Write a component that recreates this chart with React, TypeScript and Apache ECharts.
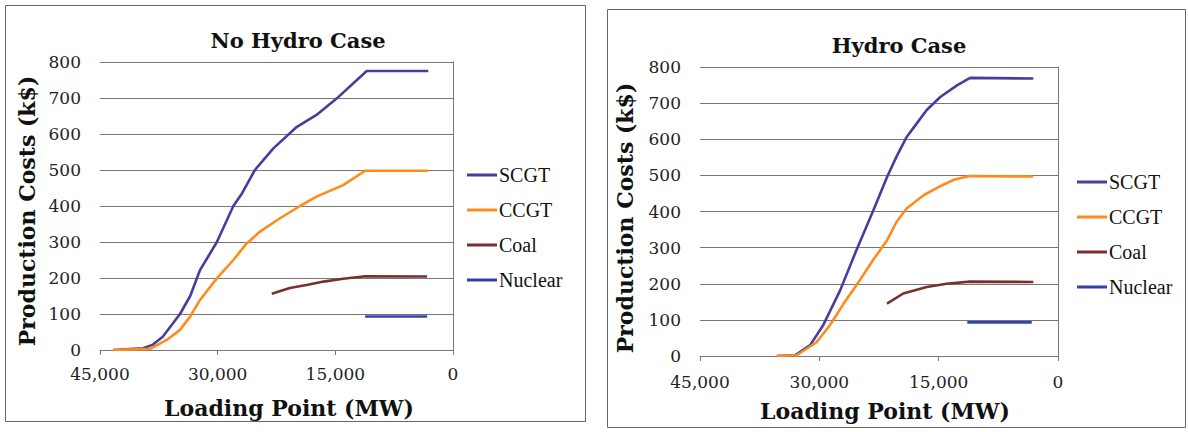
import React, { useEffect, useRef } from "react";
import * as echarts from "echarts";

// ---------- data ----------
const seriesNames = ["SCGT", "CCGT", "Coal", "Nuclear"];
const seriesColors = ["#4a3c9c", "#ff8c1a", "#7a2f2f", "#3340b0"];
const xTicks = [0, 15000, 30000, 45000];
const yTicks = [0, 100, 200, 300, 400, 500, 600, 700, 800];

// No Hydro Case
const noHydroScgtLoad = [43350, 39500, 38250, 37000, 34800, 33500, 32250, 30100, 28000, 26900, 25250, 22900, 19900, 17400, 14800, 11000, 3150];
const noHydroScgtCost = [0, 5, 15, 37, 100, 150, 222, 300, 400, 435, 500, 560, 620, 653, 699, 775, 775];
const noHydroCcgtLoad = [43350, 38600, 36500, 34800, 33500, 32250, 30100, 28000, 26300, 24600, 22050, 19500, 17400, 14000, 11200, 3150];
const noHydroCcgtCost = [0, 3, 28, 56, 93, 139, 199, 250, 296, 329, 366, 400, 426, 458, 498, 498];
const noHydroCoalLoad = [23100, 20800, 18500, 16500, 14000, 11200, 3300];
const noHydroCoalCost = [156, 172, 181, 190, 198, 205, 204];
const noHydroNuclearLoad = [11200, 3300];
const noHydroNuclearCost = [93, 93];

// Hydro Case
const hydroScgtLoad = [35350, 33050, 31150, 29500, 27400, 25300, 23100, 21500, 20300, 19000, 17750, 16500, 14800, 12700, 11050, 3100];
const hydroScgtCost = [0, 2, 30, 86, 181, 295, 409, 495, 552, 607, 644, 681, 717, 749, 770, 768];
const hydroCcgtLoad = [35350, 32850, 30350, 28650, 27000, 24900, 23200, 21500, 20300, 19000, 16900, 14800, 13100, 11100, 3100];
const hydroCcgtCost = [0, 2, 38, 86, 143, 210, 267, 320, 371, 409, 445, 470, 488, 498, 497];
const hydroCoalLoad = [21500, 19450, 16500, 14000, 11050, 3100];
const hydroCoalCost = [145, 173, 191, 200, 206, 205];
const hydroNuclearLoad = [11400, 3300];
const hydroNuclearCost = [93, 93];

const panelTitles = ["No Hydro Case", "Hydro Case"];
const xAxisTitle = "Loading Point (MW)";
const yAxisTitle = "Production Costs (k$)";

const zip = (xs: number[], ys: number[]) => xs.map((x, i) => [x, ys[i]]);

const panels = [
  [
    zip(noHydroScgtLoad, noHydroScgtCost),
    zip(noHydroCcgtLoad, noHydroCcgtCost),
    zip(noHydroCoalLoad, noHydroCoalCost),
    zip(noHydroNuclearLoad, noHydroNuclearCost),
  ],
  [
    zip(hydroScgtLoad, hydroScgtCost),
    zip(hydroCcgtLoad, hydroCcgtCost),
    zip(hydroCoalLoad, hydroCoalCost),
    zip(hydroNuclearLoad, hydroNuclearCost),
  ],
];

const SERIF = "'DejaVu Serif', 'Liberation Serif', serif";
const LEGEND_SERIF = "'Liberation Serif', 'DejaVu Serif', serif";

export default function App() {
  const ref = useRef<HTMLDivElement>(null);

  useEffect(() => {
    if (!ref.current) return;
    const chart = echarts.init(ref.current, undefined, { renderer: "svg" });

    const grids = [
      { left: 100, top: 62, width: 353, height: 288 },
      { left: 700, top: 67, width: 358, height: 289 },
    ];
    const xLabelMargins = [15, 17];

    const xAxes = grids.map((_, i) => ({
      type: "value",
      gridIndex: i,
      min: 0,
      max: 45000,
      interval: 15000,
      inverse: true,
      axisLine: { show: true, lineStyle: { color: "#777", width: 1 } },
      axisTick: { show: true, length: 5, lineStyle: { color: "#777" } },
      splitLine: { show: false },
      axisLabel: {
        margin: xLabelMargins[i],
        fontFamily: SERIF,
        fontSize: 17,
        color: "#222",
        formatter: (v: number) => (xTicks.includes(v) ? v.toLocaleString("en-US") : ""),
      },
    }));

    const yAxes = grids.map((_, i) => ({
      type: "value",
      gridIndex: i,
      min: 0,
      max: 800,
      interval: 100,
      axisLine: { show: true, lineStyle: { color: "#777", width: 1 } },
      axisTick: { show: false },
      splitLine: { show: true, lineStyle: { color: "#777", width: 1 } },
      axisLabel: {
        margin: 19,
        fontFamily: SERIF,
        fontSize: 17,
        color: "#222",
        formatter: (v: number) => (yTicks.includes(v) ? String(v) : ""),
      },
    }));

    const series: any[] = [];
    panels.forEach((panel, p) => {
      panel.forEach((data, s) => {
        series.push({
          type: "line",
          name: seriesNames[s],
          xAxisIndex: p,
          yAxisIndex: p,
          data,
          showSymbol: false,
          symbol: "none",
          smooth: false,
          lineStyle: { color: seriesColors[s], width: 2.6 },
          itemStyle: { color: seriesColors[s] },
        });
      });
    });

    const legendCommon = {
      orient: "vertical",
      icon: "rect",
      itemWidth: 30,
      itemHeight: 3,
      itemGap: 15,
      padding: 0,
      selectedMode: false,
      data: seriesNames,
      textStyle: { fontFamily: LEGEND_SERIF, fontSize: 20, color: "#111", padding: [0, 0, 0, -3] },
    };

    const titleStyle = { fontFamily: SERIF, fontSize: 21, fontWeight: "bold", fill: "#111" };
    const axisTitleStyle = { fontFamily: SERIF, fontSize: 22, fontWeight: "bold", fill: "#111" };

    chart.setOption({
      animation: false,
      backgroundColor: "#fff",
      grid: grids,
      xAxis: xAxes,
      yAxis: yAxes,
      legend: [
        { ...legendCommon, left: 467, top: 165 },
        { ...legendCommon, left: 1077, top: 172 },
      ],
      series,
      graphic: [
        { type: "rect", shape: { x: 5.5, y: 5.5, width: 580, height: 416 }, style: { fill: "none", stroke: "#666", lineWidth: 1 } },
        { type: "rect", shape: { x: 607.5, y: 9.5, width: 578, height: 418 }, style: { fill: "none", stroke: "#666", lineWidth: 1 } },
        { type: "text", x: 298, y: 40, style: { ...titleStyle, text: panelTitles[0], align: "center", verticalAlign: "middle" } },
        { type: "text", x: 899, y: 45, style: { ...titleStyle, text: panelTitles[1], align: "center", verticalAlign: "middle" } },
        { type: "text", x: 289, y: 408, style: { ...axisTitleStyle, text: xAxisTitle, align: "center", verticalAlign: "middle" } },
        { type: "text", x: 885, y: 411, style: { ...axisTitleStyle, text: xAxisTitle, align: "center", verticalAlign: "middle" } },
        { type: "text", x: 27, y: 211, rotation: Math.PI / 2, style: { ...axisTitleStyle, text: yAxisTitle, align: "center", verticalAlign: "middle" } },
        { type: "text", x: 625, y: 218, rotation: Math.PI / 2, style: { ...axisTitleStyle, text: yAxisTitle, align: "center", verticalAlign: "middle" } },
      ],
    });

    return () => chart.dispose();
  }, []);

  return (
    <div
      ref={ref}
      style={{ position: "fixed", left: 0, top: 0, width: 1188, height: 432, background: "#fff" }}
    />
  );
}
